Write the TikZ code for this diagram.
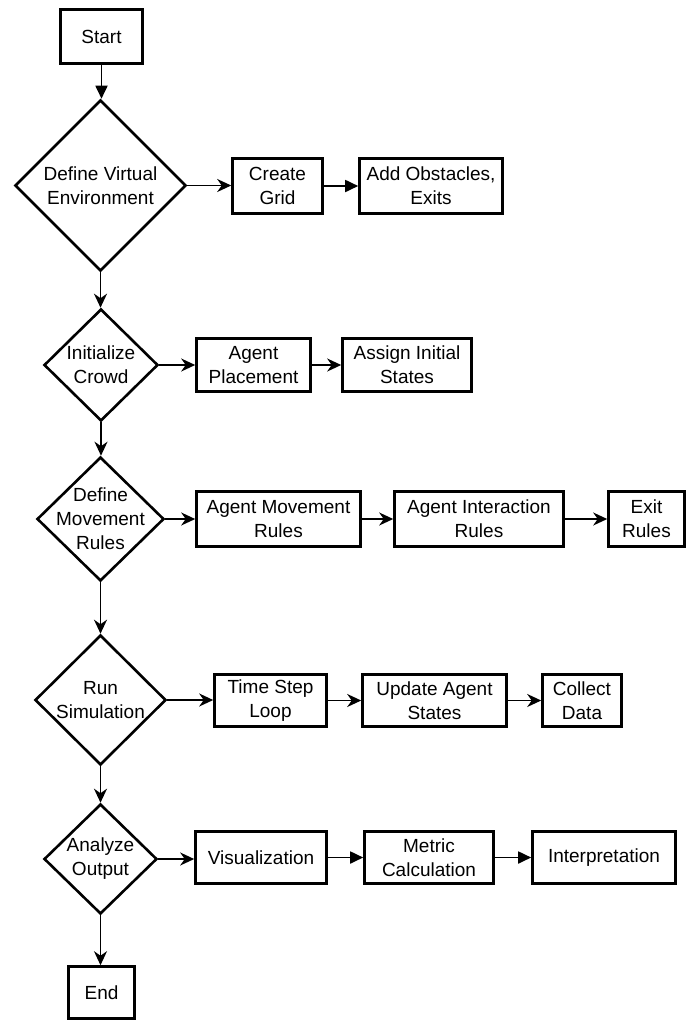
\documentclass[tikz,border=0pt]{standalone}
\usepackage{fontspec}
\setmainfont{Liberation Sans}
\usetikzlibrary{shapes.geometric,arrows.meta}
\tikzset{
 box/.style={draw, line width=2.6pt, rectangle, inner sep=0pt, align=center, font=\fontsize{19}{24}\selectfont},
 dia/.style={draw, line width=2.6pt, diamond, inner sep=0pt},
 every label/.style={align=center, font=\fontsize{19}{24}\selectfont, inner sep=0pt},
 st/.style={-{Stealth[length=14pt,width=13pt,inset=4.5pt]}, line width=1.8pt},
 tr/.style={-{Triangle[length=13pt,width=12pt]}, line width=1.8pt},
}
\begin{document}
\begin{tikzpicture}[x=1pt,y=-1pt]
\useasboundingbox (0,0) rectangle (687,1021);
% main column
\node[box, minimum width=82pt, minimum height=54pt] (start) at (101.5,36.5) {Start};
\node[dia, minimum width=171pt, minimum height=171pt, label={center:Define Virtual\\Environment}] (d1) at (100.5,185.5) {};
\node[dia, minimum width=114pt, minimum height=112pt, label={center:Initialize\\Crowd}] (d2) at (101,365) {};
\node[dia, minimum width=127pt, minimum height=124pt, label={center:Define\\Movement\\Rules}] (d3) at (100.5,519) {};
\node[dia, minimum width=131pt, minimum height=130pt, label={center:Run\\Simulation}] (d4) at (100.5,700) {};
\node[dia, minimum width=113pt, minimum height=110pt, label={center:Analyze\\Output}] (d5) at (100.5,859) {};
\node[box, minimum width=66pt, minimum height=52pt] (end) at (101.5,992.5) {End};
% row 1
\node[box, minimum width=90pt, minimum height=55pt] (grid) at (277.5,186) {Create\\Grid};
\node[box, minimum width=143pt, minimum height=55pt] (obst) at (431,186) {Add Obstacles,\\Exits};
% row 2
\node[box, minimum width=114pt, minimum height=53pt] (place) at (253.5,365) {Agent\\Placement};
\node[box, minimum width=129pt, minimum height=53pt] (assign) at (407,365) {Assign Initial\\States};
% row 3
\node[box, minimum width=164pt, minimum height=55pt] (move) at (278.5,519) {Agent Movement\\Rules};
\node[box, minimum width=169pt, minimum height=55pt] (inter) at (479,519) {Agent Interaction\\Rules};
\node[box, minimum width=76pt, minimum height=55pt] (exit) at (646.5,519) {Exit\\Rules};
% row 4
\node[box, minimum width=112pt, minimum height=52pt] (tstep) at (270.5,700.5) {Time Step\\Loop};
\node[box, minimum width=144pt, minimum height=52pt] (update) at (434.5,700.5) {Update Agent\\States};
\node[box, minimum width=79pt, minimum height=52pt] (collect) at (582,700.5) {Collect\\Data};
% row 5
\node[box, minimum width=131pt, minimum height=52pt] (vis) at (261,857.5) {Visualization};
\node[box, minimum width=129pt, minimum height=52pt] (metric) at (429,857.5) {Metric\\Calculation};
\node[box, minimum width=143pt, minimum height=52pt] (interp) at (604,857.5) {Interpretation};
% vertical connectors
\draw[tr] (start.south) -- (start.south |- d1.north);
\draw[st] (d1.south) -- (d1.south |- d2.north);
\draw[st] (d2.south) -- (d2.south |- d3.north);
\draw[st] (d3.south) -- (d3.south |- d4.north);
\draw[st] (d4.south) -- (d4.south |- d5.north);
\draw[st] (d5.south) -- (d5.south |- end.north);
% horizontal connectors
\draw[st] (d1.east) -- (d1.east -| grid.west);
\draw[tr] (grid.east) -- (grid.east -| obst.west);
\draw[st] (d2.east) -- (d2.east -| place.west);
\draw[st] (place.east) -- (place.east -| assign.west);
\draw[st] (d3.east) -- (d3.east -| move.west);
\draw[st] (move.east) -- (move.east -| inter.west);
\draw[st] (inter.east) -- (inter.east -| exit.west);
\draw[st] (d4.east) -- (d4.east -| tstep.west);
\draw[st] (tstep.east) -- (tstep.east -| update.west);
\draw[st] (update.east) -- (update.east -| collect.west);
\draw[st] (d5.east) -- (d5.east -| vis.west);
\draw[tr] (vis.east) -- (vis.east -| metric.west);
\draw[tr] (metric.east) -- (metric.east -| interp.west);
\end{tikzpicture}
\end{document}
